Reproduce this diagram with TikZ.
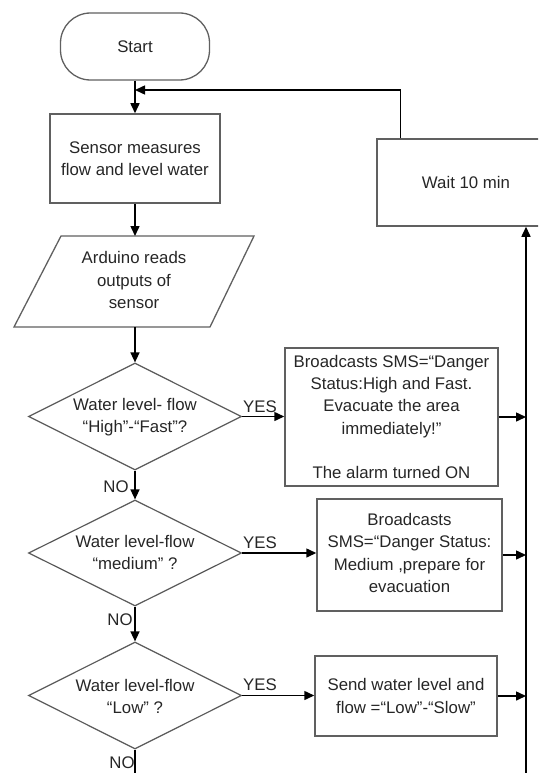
\documentclass[tikz,border=0pt]{standalone}
\usepackage{fontspec}
\setmainfont{Liberation Sans}
\usetikzlibrary{shapes.geometric,arrows.meta}
\tikzset{
  boxed/.style={draw=gray!75!black, line width=1.5pt, rectangle, inner sep=0pt},
  term/.style={draw=gray!75!black, line width=1.3pt, rectangle, rounded corners=30pt, inner sep=0pt},
  decis/.style={draw=gray!70!black, line width=1.2pt, diamond, inner sep=0pt},
  ioline/.style={draw=gray!75!black, line width=1.3pt},
  txt/.style={align=center, inner sep=0pt, text=black!85},
  lbl/.style={inner sep=0pt, text=black!85},
  arr/.style={line width=1.5pt, black, -{Triangle[length=10pt,width=9pt]}},
  ln/.style={line width=1.5pt, black}
}
\begin{document}
\begin{tikzpicture}[x=1pt,y=-1pt,font=\fontsize{16.8}{22.3}\selectfont]
\useasboundingbox (0,0) rectangle (538,773);
\clip (0,0) rectangle (538,773);
% nodes
\node[term, minimum width=149pt, minimum height=67pt] (start) at (135,46.5) {};
\node[txt] (startt) at (start.center) {Start};
\node[boxed, minimum width=170pt, minimum height=89pt] (sensor) at (135,158.5) {};
\node[txt] (sensort) at (sensor.center) {Sensor measures\\flow and level water};
% input/output parallelogram
\draw[ioline] (61,236) -- (254,236) -- (210,327) -- (14,327) -- cycle;
\coordinate (ardtop) at (135,236);
\coordinate (ardbot) at (135,327);
\node[txt] (ardt) at (134,280) {Arduino reads\\outputs of\\sensor};
\node[decis, minimum width=213pt, minimum height=107pt] (d1) at (135,416.5) {};
\node[txt] (d1t) at (135,417) {Water level- flow\\“High”-“Fast”?};
\node[decis, minimum width=213pt, minimum height=106pt] (d2) at (135,553) {};
\node[txt] (d2t) at (135,552.5) {Water level-flow\\“medium” ?};
\node[decis, minimum width=213pt, minimum height=107pt] (d3) at (135,695.5) {};
\node[txt] (d3t) at (135,696.5) {Water level-flow\\“Low” ?};
\node[boxed, minimum width=178pt, minimum height=87pt] (wait) at (466,182.5) {};
\node[txt] (waitt) at (wait.center) {Wait 10 min};
\node[boxed, minimum width=213pt, minimum height=138pt] (b1) at (391.5,417) {};
\node[txt] (b1t) at (b1.center) {Broadcasts SMS=“Danger\\Status:High and Fast.\\Evacuate the area\\immediately!”\\[22.3pt]The alarm turned ON};
\node[boxed, minimum width=185pt, minimum height=112pt] (b2) at (409.5,555) {};
\node[txt] (b2t) at (409.5,553) {Broadcasts\\SMS=“Danger Status:\\Medium ,prepare for\\evacuation};
\node[boxed, minimum width=182pt, minimum height=80pt] (b3) at (406,696) {};
\node[txt] (b3t) at (b3.center) {Send water level and\\flow =“Low”-“Slow”};
% labels
\node[lbl] (y1) at (260,407) {YES};
\node[lbl] (y2) at (260,543) {YES};
\node[lbl] (y3) at (260,685) {YES};
\node[lbl] (n1) at (116,487) {NO};
\node[lbl] (n2) at (120,620) {NO};
\node[lbl] (n3) at (122,763) {NO};
% coordinates
\coordinate (fb) at (135,90);
\coordinate (rb) at (526,773);
\coordinate (endc) at (135,773);
% connectors
\draw[arr] (start.south) -- (sensor.north);
\draw[arr] (sensor.south) -- (ardtop);
\draw[arr] (ardbot) -- (d1.north);
\draw[arr] (d1.south) -- (d2.north);
\draw[arr] (d2.south) -- (d3.north);
\draw[ln] (d3.south) -- (endc);
\draw[arr] (d1.east) -- (d1.east -| b1.west);
\draw[arr] (d2.east) -- (d2.east -| b2.west);
\draw[arr] (d3.east) -- (d3.east -| b3.west);
\draw[arr] (b1.east) -- (b1.east -| rb);
\draw[arr] (b2.east) -- (b2.east -| rb);
\draw[arr] (b3.east) -- (b3.east -| rb);
\draw[arr] (rb) -- (rb |- wait.south);
\draw[arr] ([xshift=24pt]wait.north west) |- (fb);
\end{tikzpicture}
\end{document}
